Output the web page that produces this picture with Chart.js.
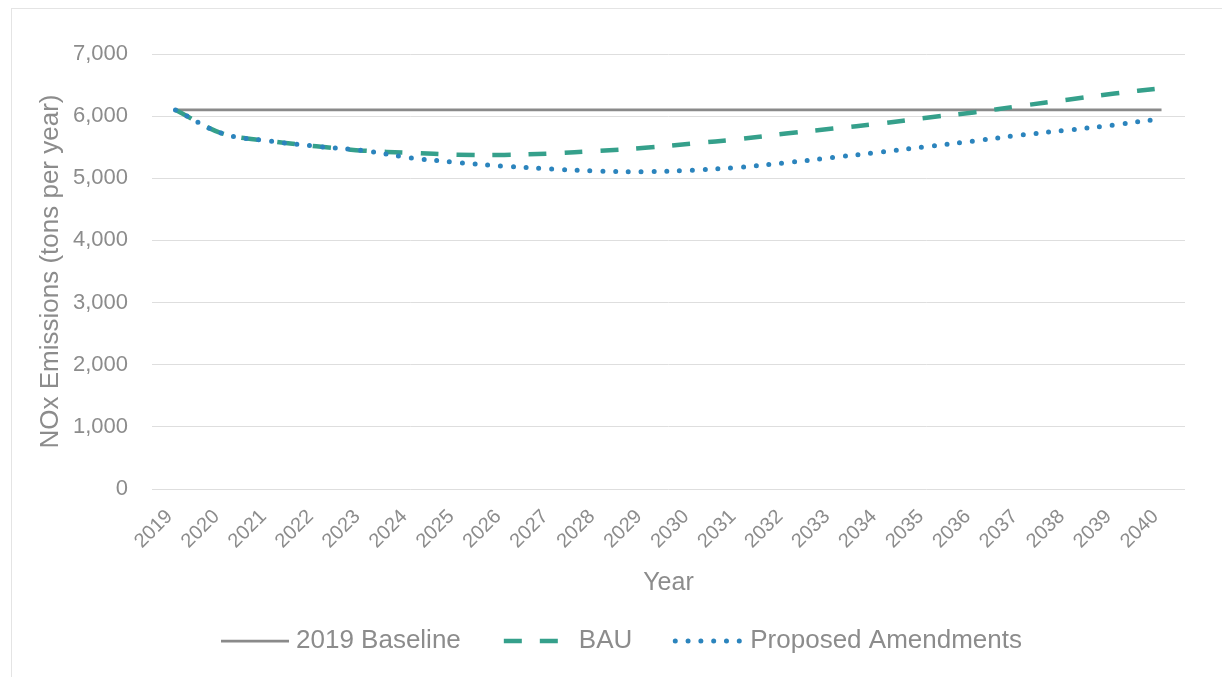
<!DOCTYPE html>
<html>
<head>
<meta charset="utf-8">
<title>NOx Emissions</title>
<script src="https://cdn.jsdelivr.net/npm/chart.js@4.4.1/dist/chart.umd.min.js"></script>
<style>
  html, body { margin: 0; padding: 0; background: #ffffff; }
  #frame {
    position: absolute; left: 11px; top: 8px; right: 0; bottom: 0;
    border-left: 1px solid #e4e4e4; border-top: 1px solid #e4e4e4;
  }
  #wrap { position: absolute; left: 0; top: 0; width: 1222px; height: 677px; }
</style>
</head>
<body>
<div id="frame"></div>
<div id="wrap"><canvas id="chart" width="1222" height="677"></canvas></div>
<script>
// Years on the horizontal axis
const years = ['2019','2020','2021','2022','2023','2024','2025','2026','2027','2028','2029',
               '2030','2031','2032','2033','2034','2035','2036','2037','2038','2039','2040'];

// Annual NOx emissions, tons per year
const baseline2019 = [6100,6100,6100,6100,6100,6100,6100,6100,6100,6100,6100,
                      6100,6100,6100,6100,6100,6100,6100,6100,6100,6100,6100];
const bau          = [6100,5720,5600,5515,5445,5410,5380,5375,5400,5440,5490,
                      5560,5630,5720,5800,5880,5975,6060,6165,6265,6365,6450];
const proposed     = [6100,5720,5600,5515,5445,5330,5255,5195,5150,5115,5105,
                      5130,5175,5250,5335,5420,5510,5600,5695,5775,5860,5960];

// Value axis ticks
const yTicks = [0,1000,2000,3000,4000,5000,6000,7000];

const FONT = "'Liberation Sans', Arial, sans-serif";
const GREY_TEXT = '#8c8c8c';

// Bottom legend: a line sample in each dataset's own stroke, then its label,
// the whole row centred under the chart.
const lineLegend = {
  id: 'lineLegend',
  afterDraw(chart, args, opts) {
    const ctx = chart.ctx;
    const sw = opts.sampleWidth, gap = opts.textGap, itemGap = opts.itemGap;
    ctx.save();
    ctx.font = opts.fontSize + 'px ' + FONT;
    const items = chart.data.datasets.map(ds => ({ ds, w: ctx.measureText(ds.label).width }));
    const total = items.reduce((s, it) => s + sw + gap + it.w, 0) + itemGap * (items.length - 1);
    let x = opts.centerX - total / 2;
    const y = opts.y;
    items.forEach(({ ds, w }) => {
      ctx.save();
      ctx.beginPath();
      ctx.strokeStyle = ds.borderColor;
      ctx.lineWidth = ds.borderWidth;
      ctx.lineCap = ds.borderCapStyle || 'butt';
      ctx.setLineDash(ds.borderDash || []);
      ctx.moveTo(x, y);
      ctx.lineTo(x + sw, y);
      ctx.stroke();
      ctx.restore();
      ctx.fillStyle = GREY_TEXT;
      ctx.textAlign = 'left';
      ctx.textBaseline = 'middle';
      ctx.fillText(ds.label, x + sw + gap, y);
      x += sw + gap + w + itemGap;
    });
    ctx.restore();
  }
};

new Chart(document.getElementById('chart'), {
  type: 'line',
  data: {
    labels: years,
    datasets: [
      {
        label: '2019 Baseline',
        data: baseline2019,
        borderColor: '#8a8a8a',
        borderWidth: 2.75,
        pointRadius: 0,
        tension: 0,
        order: 3
      },
      {
        label: 'BAU',
        data: bau,
        borderColor: '#35a08b',
        borderWidth: 4.5,
        borderDash: [18, 18],
        borderCapStyle: 'butt',
        pointRadius: 0,
        tension: 0.35,
        order: 2
      },
      {
        label: 'Proposed Amendments',
        data: proposed,
        borderColor: '#2b84bd',
        borderWidth: 5,
        borderDash: [0, 12.8],
        borderCapStyle: 'round',
        pointRadius: 0,
        tension: 0.35,
        order: 1
      }
    ]
  },
  plugins: [lineLegend],
  options: {
    responsive: false,
    animation: false,
    layout: { padding: { left: 35, right: 37, top: 54, bottom: 79 } },
    plugins: {
      tooltip: { enabled: false },
      legend: { display: false },
      lineLegend: { centerX: 621.5, y: 641, fontSize: 26, sampleWidth: 68, textGap: 7, itemGap: 43 }
    },
    scales: {
      x: {
        type: 'category',
        offset: true,
        grid: { display: false },
        border: { display: false },
        ticks: {
          color: GREY_TEXT,
          font: { family: FONT, size: 20 },
          minRotation: 45,
          maxRotation: 45,
          autoSkip: false,
          padding: 8,
          labelOffset: -6
        },
        title: {
          display: true,
          text: 'Year',
          color: GREY_TEXT,
          font: { family: FONT, size: 25 },
          padding: { top: 0, bottom: 0 }
        },
        afterFit(scale) { scale.height = 109; }
      },
      y: {
        min: 0,
        max: 7000,
        afterBuildTicks(scale) { scale.ticks = yTicks.map(v => ({ value: v })); },
        grid: { color: '#dedede', lineWidth: 1, drawTicks: false },
        border: { display: false },
        ticks: {
          color: GREY_TEXT,
          font: { family: FONT, size: 22 },
          padding: 24,
          callback: v => v.toLocaleString('en-US')
        },
        title: {
          display: true,
          text: 'NOx Emissions (tons per year)',
          color: GREY_TEXT,
          font: { family: FONT, size: 26 },
          padding: { top: 0, bottom: 0 }
        },
        afterFit(scale) { scale.width = 117; }
      }
    }
  }
});
</script>
</body>
</html>
